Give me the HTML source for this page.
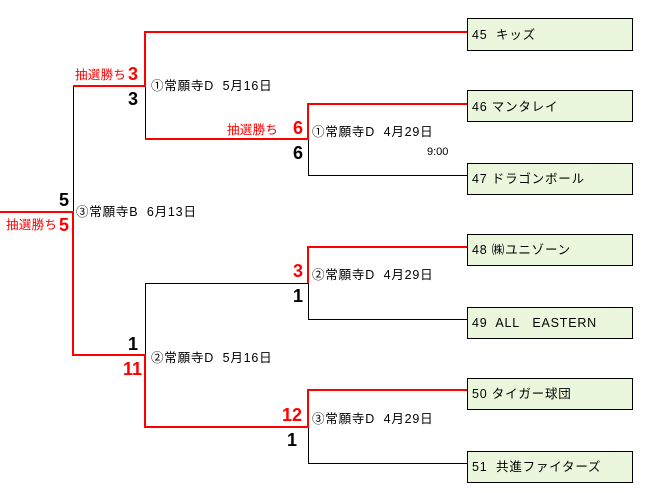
<!DOCTYPE html>
<html><head><meta charset="utf-8"><style>
body{margin:0;background:#fff}
svg{display:block}
text{font-family:"Liberation Sans","Noto Sans CJK JP",sans-serif;font-size:12.5px;white-space:pre;letter-spacing:0.8px}
.s{font-size:18px;font-weight:bold;letter-spacing:0}
.r{fill:#f00}
.l{letter-spacing:0.3px}
</style></head><body>
<svg width="660" height="493" viewBox="0 0 660 493" xml:space="preserve">
<g fill="#ebf7dc" stroke="#000" stroke-width="1">
<rect x="467.5" y="18.5" width="165" height="32"/>
<rect x="467.5" y="90.5" width="165" height="31"/>
<rect x="467.5" y="163.5" width="165" height="31"/>
<rect x="467.5" y="234.5" width="165" height="31"/>
<rect x="467.5" y="307.5" width="165" height="31"/>
<rect x="467.5" y="378.5" width="165" height="31"/>
<rect x="467.5" y="451.5" width="165" height="31"/>
</g>
<g fill="none" stroke="#000" stroke-width="1">
<path d="M145.5 86V139M308.5 139V175.5H467M73.5 86V212M145.5 283.5V355M145 283.5H308.5V319.5H467M308.5 427V463.5H467"/>
</g>
<g fill="none" stroke="#f00" stroke-width="2">
<path d="M73 86H145V32H467M145 139H308V104H467M0 212H73V355H145V427H308V390H467M308 283V247H467"/>
</g>
<g>
<text x="472" y="39">45  キッズ</text>
<text x="472" y="111">46 マンタレイ</text>
<text x="472" y="183">47 ドラゴンボール</text>
<text x="472" y="254">48 ㈱ユニゾーン</text>
<text x="472" y="327">49  ALL   EASTERN</text>
<text x="472" y="398">50 タイガー球団</text>
<text x="472" y="471">51  共進ファイターズ</text>

<text x="151" y="90">①常願寺D  5月16日</text>
<text x="312" y="136">①常願寺D  4月29日</text>
<text x="427" y="155" style="font-size:11px;letter-spacing:0">9:00</text>
<text x="76" y="216">③常願寺B  6月13日</text>
<text x="312" y="279">②常願寺D  4月29日</text>
<text x="151" y="362">②常願寺D  5月16日</text>
<text x="312" y="423">③常願寺D  4月29日</text>

<text class="r l" x="75" y="79">抽選勝ち</text>
<text class="s r" x="128" y="80">3</text>
<text class="s" x="128" y="105">3</text>
<text class="r l" x="227" y="134">抽選勝ち</text>
<text class="s r" x="293" y="134">6</text>
<text class="s" x="293" y="159">6</text>
<text class="s" x="59" y="206">5</text>
<text class="r l" x="6" y="229">抽選勝ち</text>
<text class="s r" x="59" y="231">5</text>
<text class="s r" x="293" y="277">3</text>
<text class="s" x="293" y="302">1</text>
<text class="s" x="128" y="350">1</text>
<text class="s r" x="123" y="375">11</text>
<text class="s r" x="282" y="421">12</text>
<text class="s" x="287" y="446">1</text>
</g>
</svg>
</body></html>
